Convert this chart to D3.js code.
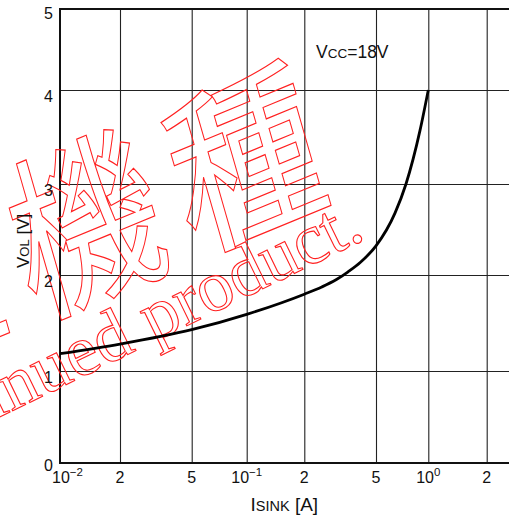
<!DOCTYPE html>
<html>
<head>
<meta charset="utf-8">
<script src="https://cdn.jsdelivr.net/npm/d3@7"></script>
<style>
  html, body { margin: 0; padding: 0; background: #fff; }
  svg { display: block; font-family: "Liberation Sans", Arial, sans-serif; }
</style>
</head>
<body>
<svg id="chart" width="509" height="519"></svg>
<script>
// ---- data ----
const isink = [0.01, 0.02, 0.05, 0.1, 0.2, 0.25, 0.3, 0.35, 0.41, 0.5, 0.643, 0.744, 0.896, 1.0];
const vol   = [1.18, 1.28, 1.43, 1.59, 1.80, 1.875, 1.95, 2.035, 2.14, 2.32, 2.68, 3.00, 3.57, 4.00];

const xTicks    = [0.01, 0.02, 0.05, 0.1, 0.2, 0.5, 1, 2];
const xTickBase = ["10", "2", "5", "10", "2", "5", "10", "2"];
const xTickExp  = ["\u22122", "", "", "\u22121", "", "", "0", ""];
const yTicks    = [0, 1, 2, 3, 4, 5];
const yTickLabels = ["0", "1", "2", "3", "4", "5"];

const watermarkJa = "廃止機種";
const watermarkEn = "Discontinued product.";

// ---- layout ----
const W = 509, H = 519;
const mLeft = 60, mTop = 9, mBottom = 463;

const svg = d3.select("#chart");

// scanned reference has slightly uneven spacing -> piecewise scales
const x = d3.scaleLog()
  .domain([0.01, 0.02, 0.05, 0.1, 0.2, 0.5, 1, 2])
  .range([60, 120, 191.7, 246.7, 304.3, 376, 428.3, 486.7]);
const y = d3.scaleLinear()
  .domain([0, 1, 2, 3, 4, 5])
  .range([463, 371, 275, 184, 90, 9]);

// ---- grid via axes ----
const gx = svg.append("g")
  .attr("transform", `translate(0,${mBottom})`)
  .call(d3.axisBottom(x).tickValues(xTicks.slice(1)).tickSize(-(mBottom - mTop)).tickFormat(""));
gx.select(".domain").remove();
gx.selectAll(".tick line").attr("stroke", "#222").attr("stroke-width", 1.1);

const gy = svg.append("g")
  .attr("transform", `translate(${mLeft},0)`)
  .call(d3.axisLeft(y).tickValues(yTicks.slice(1, 5)).tickSize(-(W - mLeft)).tickFormat(""));
gy.select(".domain").remove();
gy.selectAll(".tick line").attr("stroke", "#222").attr("stroke-width", 1.1);

// frame lines
svg.append("line").attr("x1", mLeft).attr("x2", W).attr("y1", y(5)).attr("y2", y(5))
  .attr("stroke", "#111").attr("stroke-width", 2);
svg.append("line").attr("x1", mLeft).attr("x2", W).attr("y1", y(0)).attr("y2", y(0))
  .attr("stroke", "#111").attr("stroke-width", 2);
svg.append("line").attr("x1", x(0.01)).attr("x2", x(0.01)).attr("y1", y(5) - 1).attr("y2", y(0) + 1)
  .attr("stroke", "#111").attr("stroke-width", 2);

// ---- watermark (outlined red text) ----
const wm = svg.append("g").attr("fill", "none").attr("stroke", "#ff2020");
wm.append("text")
  .attr("transform", "translate(350,186) scale(1,1.2) rotate(-19)")
  .attr("text-anchor", "end")
  .attr("letter-spacing", 18)
  .attr("stroke-width", 1)
  .attr("font-family", "'Noto Sans CJK JP', sans-serif")
  .attr("font-size", 150)
  .text(watermarkJa);
wm.append("text")
  .attr("transform", "translate(367,238) rotate(-26)")
  .attr("text-anchor", "end")
  .attr("stroke-width", 1.1)
  .attr("font-family", "'Liberation Serif', 'DejaVu Serif', serif")
  .attr("font-size", 72)
  .text(watermarkEn);

// ---- curve ----
const pts = isink.map((v, i) => [v, vol[i]]);
svg.append("path")
  .datum(pts)
  .attr("fill", "none")
  .attr("stroke", "#000")
  .attr("stroke-width", 2.8)
  .attr("stroke-linejoin", "round")
  .attr("d", d3.line().x(d => x(d[0])).y(d => y(d[1])).curve(d3.curveMonotoneX));

// ---- tick labels ----
svg.append("g").selectAll("text")
  .data(yTicks)
  .join("text")
  .attr("x", 53)
  .attr("y", d => y(d) + (d === 0 ? 8 : d === 5 ? 10 : 12))
  .attr("text-anchor", "end")
  .attr("font-size", 16)
  .attr("fill", "#111")
  .text((d, i) => yTickLabels[i]);

const xl = svg.append("g").selectAll("text")
  .data(xTicks)
  .join("text")
  .attr("x", (d, i) => i === 0 ? x(d) - 8 : x(d))
  .attr("y", 483)
  .attr("text-anchor", (d, i) => i === 0 ? "start" : "middle")
  .attr("font-size", 16)
  .attr("fill", "#111");
xl.append("tspan").text((d, i) => xTickBase[i]);
xl.filter((d, i) => xTickExp[i] !== "")
  .append("tspan").attr("font-size", 11.5).attr("dy", -7).text(d => xTickExp[xTicks.indexOf(d)]);

// ---- axis titles ----
const xt = svg.append("text").attr("x", 250.5).attr("y", 511).attr("fill", "#111");
xt.append("tspan").attr("font-size", 19).text("I");
xt.append("tspan").attr("font-size", 14.5).text("SINK");
xt.append("tspan").attr("font-size", 19).text(" [A]");

const yt = svg.append("text").attr("transform", "translate(29,268) rotate(-90)").attr("fill", "#111");
yt.append("tspan").attr("font-size", 17).text("V");
yt.append("tspan").attr("font-size", 13).text("OL");
yt.append("tspan").attr("font-size", 17).text(" [V]");

const vt = svg.append("text").attr("x", 316).attr("y", 58).attr("fill", "#111");
vt.append("tspan").attr("font-size", 17.5).text("V");
vt.append("tspan").attr("font-size", 13.5).text("CC");
vt.append("tspan").attr("font-size", 17.5).text("=18V");
</script>
</body>
</html>
